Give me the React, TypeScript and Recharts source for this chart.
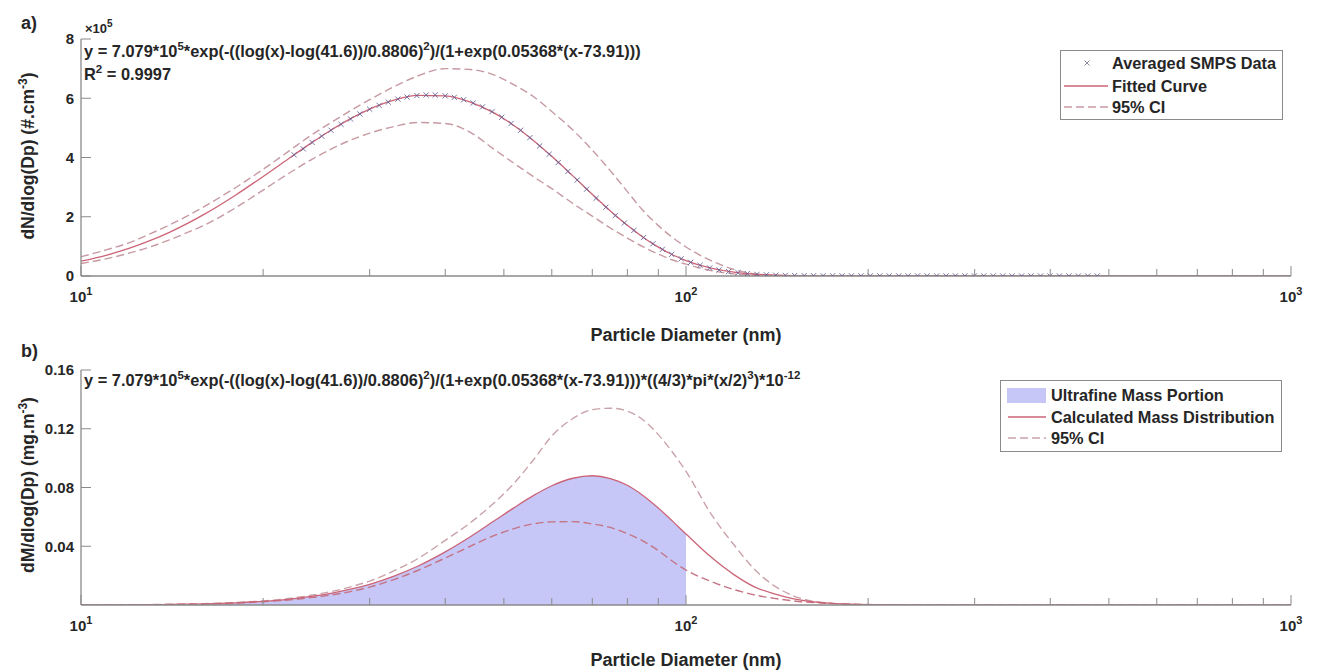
import React from 'react';
import { ComposedChart, Line, Area, Scatter, XAxis, YAxis } from 'recharts';

// ---------- data ----------
const curveDiameters = [
  10, 11, 12, 13, 14, 15, 16,
  18, 20, 22, 24, 26, 28, 30,
  33, 36, 40, 44, 48, 52, 56,
  60, 65, 70, 75, 80, 85, 90,
  95, 100, 110, 120, 130, 140, 150,
  170, 200, 250, 300, 400, 500, 700, 1000,
];

// panel a (units of 1e5 #/cm3)
const fittedNumber = [
  0.499, 0.699, 0.931, 1.191, 1.475, 1.776, 2.088,
  2.728, 3.358, 3.951, 4.485, 4.946, 5.33, 5.634,
  5.945, 6.094, 6.08, 5.872, 5.521, 5.074, 4.569,
  4.04, 3.38, 2.757, 2.196, 1.711, 1.302, 0.974,
  0.716, 0.519, 0.263, 0.129, 0.059, 0.03, 0.014,
  0.003, 0.0003, 0, 0, 0, 0, 0, 0,
];
const upperNumber = [
  0.65, 0.88, 1.12, 1.42, 1.72, 2.03, 2.35,
  2.98, 3.6, 4.2, 4.75, 5.2, 5.6, 5.95,
  6.4, 6.75, 7.0, 6.97, 6.8, 6.45, 6.05,
  5.55, 4.93, 4.25, 3.55, 2.85, 2.2, 1.7,
  1.3, 0.98, 0.52, 0.22, 0.07, 0.025, 0.008,
  0.001, 0, 0, 0, 0, 0, 0, 0,
];
const lowerNumber = [
  0.42, 0.58, 0.77, 0.98, 1.22, 1.47, 1.72,
  2.3, 2.9, 3.45, 3.92, 4.3, 4.6, 4.82,
  5.05, 5.18, 5.15, 4.85, 4.3, 3.8, 3.35,
  2.95, 2.45, 2.02, 1.62, 1.28, 0.98, 0.74,
  0.54, 0.4, 0.18, 0.07, 0.025, 0.008, 0.002,
  0, 0, 0, 0, 0, 0, 0, 0,
];

// panel b (mg/m3)
const fittedMass = [
  0.000046, 0.000087, 0.00015, 0.00024, 0.00038, 0.00056, 0.0008,
  0.0015, 0.0025, 0.0039, 0.0058, 0.0081, 0.0109, 0.0141,
  0.0199, 0.0264, 0.0362, 0.0465, 0.0568, 0.0663, 0.0746,
  0.0812, 0.0863, 0.088, 0.0861, 0.0815, 0.0744, 0.066,
  0.0571, 0.0483, 0.0326, 0.0207, 0.0122, 0.0076, 0.0044,
  0.0014, 0.00025, 0.00001, 0, 0, 0, 0, 0,
];
const upperMass = [
  0.00005, 0.0001, 0.00017, 0.00027, 0.00042, 0.00063, 0.0009,
  0.0017, 0.0028, 0.0044, 0.0066, 0.0093, 0.0125, 0.0163,
  0.0235, 0.0315, 0.044, 0.056, 0.069, 0.083, 0.099,
  0.115, 0.127, 0.133, 0.134, 0.132, 0.126, 0.116,
  0.104, 0.091, 0.062, 0.041, 0.024, 0.013, 0.0065,
  0.0015, 0.0002, 0, 0, 0, 0, 0, 0,
];
const lowerMass = [
  0.00004, 0.00008, 0.00013, 0.00021, 0.00033, 0.0005, 0.0007,
  0.0013, 0.0022, 0.0034, 0.005, 0.0069, 0.0093, 0.0122,
  0.0175, 0.0235, 0.032, 0.04, 0.047, 0.052, 0.0553,
  0.0566, 0.0568, 0.0552, 0.0528, 0.0485, 0.0435, 0.037,
  0.0298, 0.0238, 0.016, 0.0105, 0.0068, 0.0045, 0.0029,
  0.0012, 0.0003, 0.00005, 0, 0, 0, 0, 0,
];

// averaged SMPS data points (units of 1e5 #/cm3)
const smpsDiameters = [
  22.5, 23.3, 24.1, 25.0, 25.9, 26.9, 27.9, 28.9, 30.0, 31.1,
  32.2, 33.4, 34.6, 35.9, 37.2, 38.5, 40.0, 41.4, 42.9, 44.5,
  46.1, 47.8, 49.6, 51.4, 53.3, 55.2, 57.3, 59.4, 61.5, 63.8,
  66.1, 68.5, 71.0, 73.7, 76.4, 79.1, 82.0, 85.1, 88.2, 91.4,
  94.7, 98.2, 101.8, 105.5, 109.4, 113.4, 117.6, 121.9, 126.3, 131.0,
  135.8, 140.7, 145.9, 151.2, 156.8, 162.5, 168.5, 174.7, 181.1, 187.7,
  194.6, 201.7, 209.1, 216.7, 224.7, 232.9, 241.4, 250.3, 259.5, 269.0,
  278.8, 289.0, 299.6, 310.6, 322.0, 333.8, 346.0, 358.7, 371.8, 385.4,
  399.5, 414.2, 429.4, 445.1, 461.4, 478.3,
];
const smpsValues = [
  4.09, 4.29, 4.51, 4.72, 4.92, 5.12, 5.3, 5.47, 5.63, 5.76,
  5.87, 5.97, 6.04, 6.09, 6.11, 6.11, 6.08, 6.03, 5.95, 5.84,
  5.71, 5.55, 5.36, 5.15, 4.92, 4.67, 4.39, 4.11, 3.83, 3.53,
  3.24, 2.93, 2.62, 2.32, 2.04, 1.79, 1.54, 1.3, 1.09, 0.9,
  0.73, 0.58, 0.46, 0.36, 0.27, 0.205, 0.15, 0.11, 0.08, 0.055,
  0.04, 0.028, 0.02, 0.015, 0.012, 0.01, 0.009, 0.008, 0.007, 0.007,
  0.006, 0.006, 0.005, 0.005, 0.005, 0.004, 0.004, 0.004, 0.004, 0.003,
  0.003, 0.003, 0.003, 0.003, 0.003, 0.002, 0.002, 0.002, 0.002, 0.002,
  0.002, 0.002, 0.002, 0.001, 0.001, 0.001,
];

const xTicks = [10, 20, 30, 40, 50, 60, 70, 80, 90, 100, 200, 300, 400, 500, 600, 700, 800, 900, 1000];
const xMajorTicks = [10, 100, 1000];
const xMajorExponents = ['1', '2', '3'];
const yTicksA = [0, 2, 4, 6, 8];
const yTickLabelsA = ['0', '2', '4', '6', '8'];
const yTicksB = [0.04, 0.08, 0.12, 0.16];
const yTickLabelsB = ['0.04', '0.08', '0.12', '0.16'];
const ultrafineLimit = 100;

const tableA = curveDiameters.map((x, i) => ({
  x, fit: fittedNumber[i], upper: upperNumber[i], lower: lowerNumber[i],
}));
const tableB = curveDiameters.map((x, i) => ({
  x, fit: fittedMass[i], upper: upperMass[i], lower: lowerMass[i],
  ultra: x <= ultrafineLimit ? fittedMass[i] : null,
}));
const smpsData = smpsDiameters.map((x, i) => ({ x, y: smpsValues[i] }));

// ---------- styles ----------
const FONT = '"Liberation Sans", Arial, Helvetica, sans-serif';
const AXIS = '#8a8a8a';
const TXT = '#262626';
const FIT = '#cc6477';
const CI_A = '#c79aa2';
const CI_B_UP = '#c9a3a9';
const CI_B_LO = '#c47484';
const MARK = '#5f5f95';
const FILL = '#c7c7f7';

const renderXTick = (props: any) => {
  const { x, y, payload } = props;
  const v = payload.value;
  const mi = xMajorTicks.indexOf(v);
  const major = mi >= 0;
  return (
    <g>
      <line x1={x} x2={x} y1={y} y2={y - (major ? 10 : 7)} stroke={AXIS} strokeWidth={1} />
      {major && (
        <text x={x} y={y + 26} textAnchor="middle" fontFamily={FONT} fontWeight="bold" fontSize={15} fill={TXT}>
          10<tspan dy={-7} fontSize={11}>{xMajorExponents[mi]}</tspan>
        </text>
      )}
    </g>
  );
};

const makeYTick = (vals: number[], labels: string[]) => (props: any) => {
  const { x, y, payload } = props;
  const idx = vals.findIndex((v) => Math.abs(v - payload.value) < 1e-9);
  return (
    <g>
      <line x1={x} x2={x + 10} y1={y} y2={y} stroke={AXIS} strokeWidth={1} />
      <text x={x - 7} y={y} dy="0.36em" textAnchor="end" fontFamily={FONT} fontWeight="bold" fontSize={15} fill={TXT}>
        {idx >= 0 ? labels[idx] : ''}
      </text>
    </g>
  );
};

const renderMark = (props: any) => {
  const { cx, cy } = props;
  if (cx == null || cy == null) return <g />;
  const s = 2.6;
  return (
    <g stroke={MARK} strokeWidth={1} opacity={0.85}>
      <line x1={cx - s} y1={cy - s} x2={cx + s} y2={cy + s} />
      <line x1={cx - s} y1={cy + s} x2={cx + s} y2={cy - s} />
    </g>
  );
};

const W = 1319;

export default function App() {
  return (
    <div style={{ position: 'fixed', left: 0, top: 0, width: W, height: 672, background: '#fff', fontFamily: FONT }}>
      <div style={{ position: 'absolute', left: 0, top: 0 }}>
        <ComposedChart width={W} height={320} data={tableA} margin={{ top: 39, right: 28, bottom: 4, left: 21 }}>
          <XAxis dataKey="x" type="number" scale="log" domain={[10, 1000]} ticks={xTicks} interval={0}
            tick={renderXTick} tickLine={false} tickSize={0} tickMargin={0} height={40}
            axisLine={{ stroke: AXIS, strokeWidth: 1.3 }} allowDataOverflow />
          <YAxis type="number" domain={[0, 8]} ticks={yTicksA} interval={0}
            tick={makeYTick(yTicksA, yTickLabelsA)} tickLine={false} tickSize={0} tickMargin={0} width={60}
            axisLine={{ stroke: AXIS, strokeWidth: 1.3 }} allowDataOverflow />
          <Line dataKey="upper" type="monotone" stroke={CI_A} strokeWidth={1.4} strokeDasharray="8 4" dot={false} activeDot={false} isAnimationActive={false} />
          <Line dataKey="lower" type="monotone" stroke={CI_A} strokeWidth={1.4} strokeDasharray="8 4" dot={false} activeDot={false} isAnimationActive={false} />
          <Line dataKey="fit" type="monotone" stroke={FIT} strokeWidth={1.3} dot={false} activeDot={false} isAnimationActive={false} />
          <Scatter data={smpsData} dataKey="y" shape={renderMark} isAnimationActive={false} />
        </ComposedChart>
      </div>
      <div style={{ position: 'absolute', left: 0, top: 320 }}>
        <ComposedChart width={W} height={352} data={tableB} margin={{ top: 50, right: 28, bottom: 27, left: 21 }}>
          <XAxis dataKey="x" type="number" scale="log" domain={[10, 1000]} ticks={xTicks} interval={0}
            tick={renderXTick} tickLine={false} tickSize={0} tickMargin={0} height={40}
            axisLine={{ stroke: AXIS, strokeWidth: 1.3 }} allowDataOverflow />
          <YAxis type="number" domain={[0, 0.16]} ticks={yTicksB} interval={0}
            tick={makeYTick(yTicksB, yTickLabelsB)} tickLine={false} tickSize={0} tickMargin={0} width={60}
            axisLine={{ stroke: AXIS, strokeWidth: 1.3 }} allowDataOverflow />
          <Area dataKey="ultra" type="monotone" stroke="none" fill={FILL} fillOpacity={1} connectNulls={false} dot={false} activeDot={false} isAnimationActive={false} />
          <Line dataKey="upper" type="monotone" stroke={CI_B_UP} strokeWidth={1.4} strokeDasharray="8 4" dot={false} activeDot={false} isAnimationActive={false} />
          <Line dataKey="lower" type="monotone" stroke={CI_B_LO} strokeWidth={1.4} strokeDasharray="8 4" dot={false} activeDot={false} isAnimationActive={false} />
          <Line dataKey="fit" type="monotone" stroke={FIT} strokeWidth={1.3} dot={false} activeDot={false} isAnimationActive={false} />
        </ComposedChart>
      </div>

      <svg width={W} height={672} style={{ position: 'absolute', left: 0, top: 0, pointerEvents: 'none' }}
        fontFamily={FONT} fontWeight="bold" fill={TXT}>
        {/* panel a texts */}
        <text x={21} y={29} fontSize={18}>a)</text>
        <text x={85} y={33} fontSize={13}>×10<tspan dy={-6} fontSize={10}>5</tspan></text>
        <text x={84} y={57} fontSize={16.4}>
          y = 7.079*10<tspan dy={-7} fontSize={11.5}>5</tspan>
          <tspan dy={7}>*exp(-((log(x)-log(41.6))/0.8806)</tspan>
          <tspan dy={-7} fontSize={11.5}>2</tspan>
          <tspan dy={7}>)/(1+exp(0.05368*(x-73.91)))</tspan>
        </text>
        <text x={84} y={80} fontSize={16.4}>
          R<tspan dy={-7} fontSize={11.5}>2</tspan><tspan dy={7}>{' = 0.9997'}</tspan>
        </text>
        <text transform="rotate(-90)" x={-156} y={34} textAnchor="middle" fontSize={17.5}>
          dN/dlog(Dp) (#.cm<tspan dy={-7} fontSize={12}>-3</tspan><tspan dy={7}>)</tspan>
        </text>
        <text x={686} y={341} textAnchor="middle" fontSize={18}>Particle Diameter (nm)</text>

        {/* legend a */}
        <rect x={1060.5} y={50.5} width={222} height={69} fill="#fff" stroke={AXIS} strokeWidth={1} />
        <g stroke="#8c8ca6" strokeWidth={1}>
          <line x1={1084.5} y1={60.5} x2={1089.5} y2={65.5} />
          <line x1={1084.5} y1={65.5} x2={1089.5} y2={60.5} />
        </g>
        <text x={1112} y={69} fontSize={16.3}>Averaged SMPS Data</text>
        <line x1={1064} x2={1108} y1={86} y2={86} stroke={FIT} strokeWidth={1.3} />
        <text x={1112} y={92} fontSize={16.3}>Fitted Curve</text>
        <line x1={1064} x2={1108} y1={107} y2={107} stroke={CI_A} strokeWidth={1.4} strokeDasharray="8 4" />
        <text x={1112} y={113} fontSize={16.3}>95% CI</text>

        {/* panel b texts */}
        <text x={21} y={357} fontSize={18}>b)</text>
        <text x={84} y={386} fontSize={16.4}>
          y = 7.079*10<tspan dy={-7} fontSize={11.5}>5</tspan>
          <tspan dy={7}>*exp(-((log(x)-log(41.6))/0.8806)</tspan>
          <tspan dy={-7} fontSize={11.5}>2</tspan>
          <tspan dy={7}>)/(1+exp(0.05368*(x-73.91)))*((4/3)*pi*(x/2)</tspan>
          <tspan dy={-7} fontSize={11.5}>3</tspan>
          <tspan dy={7}>)*10</tspan>
          <tspan dy={-7} fontSize={11.5}>-12</tspan>
        </text>
        <text transform="rotate(-90)" x={-485} y={34} textAnchor="middle" fontSize={17.5}>
          dM/dlog(Dp) (mg.m<tspan dy={-7} fontSize={12}>-3</tspan><tspan dy={7}>)</tspan>
        </text>
        <text x={686} y={666} textAnchor="middle" fontSize={18}>Particle Diameter (nm)</text>

        {/* legend b */}
        <rect x={1000.5} y={380.5} width={281} height={71} fill="#fff" stroke={AXIS} strokeWidth={1} />
        <rect x={1007} y={388} width={39} height={15} fill={FILL} />
        <text x={1051} y={401} fontSize={16.3}>Ultrafine Mass Portion</text>
        <line x1={1008} x2={1046} y1={417} y2={417} stroke={FIT} strokeWidth={1.3} />
        <text x={1051} y={423} fontSize={16.3}>Calculated Mass Distribution</text>
        <line x1={1008} x2={1046} y1={438} y2={438} stroke={CI_B_UP} strokeWidth={1.4} strokeDasharray="8 4" />
        <text x={1051} y={444} fontSize={16.3}>95% CI</text>
      </svg>
    </div>
  );
}
